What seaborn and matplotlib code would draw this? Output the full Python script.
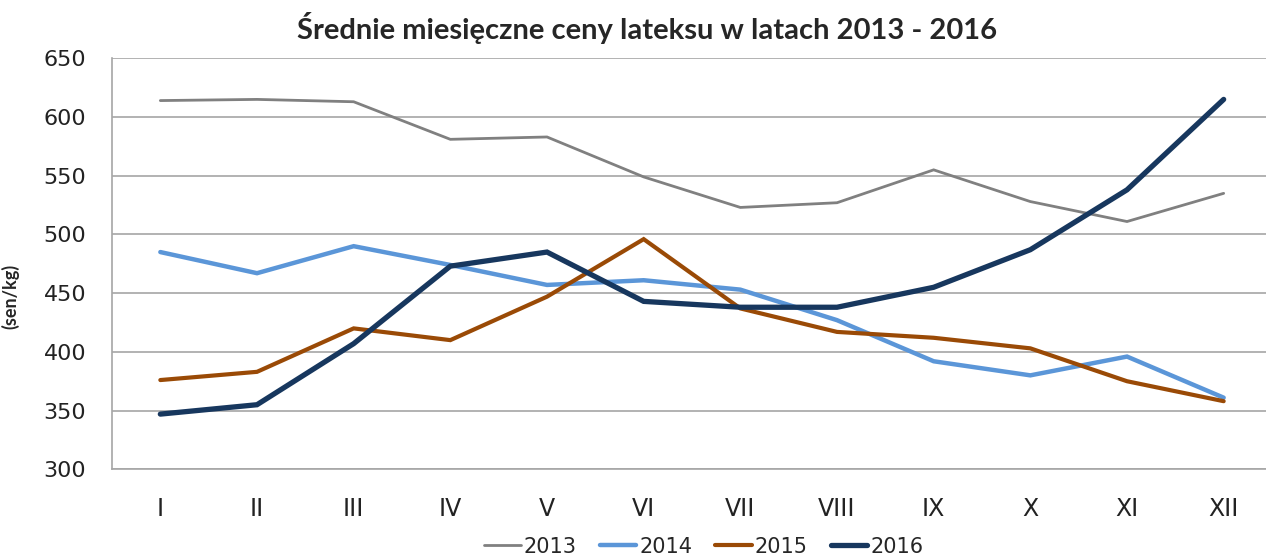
import matplotlib
matplotlib.use("Agg")
import matplotlib.pyplot as plt
import seaborn as sns
import pandas as pd

months = ["I", "II", "III", "IV", "V", "VI", "VII", "VIII", "IX", "X", "XI", "XII"]
years = ["2013", "2014", "2015", "2016"]
price_2013 = [614, 615, 613, 581, 583, 549, 523, 527, 555, 528, 511, 535]
price_2014 = [485, 467, 490, 474, 457, 461, 453, 427, 392, 380, 396, 361]
price_2015 = [376, 383, 420, 410, 447, 496, 437, 417, 412, 403, 375, 358]
price_2016 = [347, 355, 407, 473, 485, 443, 438, 438, 455, 487, 538, 615]
y_ticks = [300, 350, 400, 450, 500, 550, 600, 650]

colors = {"2013": "#808080", "2014": "#5B96D8", "2015": "#9A4A06", "2016": "#17375E"}
widths = {"2013": 2.0, "2014": 3.2, "2015": 3.0, "2016": 3.8}

df = pd.DataFrame({
    "month": list(range(len(months))) * 4,
    "year": [y for y in years for _ in months],
    "price": price_2013 + price_2014 + price_2015 + price_2016,
})

sns.set_style("white")
plt.rcParams["font.family"] = ["DejaVu Sans"]

fig = plt.figure(figsize=(12.66, 5.59), dpi=100)
ax = fig.add_axes([112 / 1266, 1 - 469.3 / 559, 1160 / 1266, 411 / 559])

for yr in years:
    sub = df[df["year"] == yr]
    sns.lineplot(data=sub, x="month", y="price", color=colors[yr], linewidth=widths[yr],
                 label=yr, ax=ax, solid_joinstyle="miter")

ax.set_xlim(-0.5, 11.5)
ax.set_ylim(300, 650)
ax.set_yticks(y_ticks)
ax.set_yticklabels([str(v) for v in y_ticks], fontsize=16, color="#222222")
ax.set_xticks(range(len(months)))
ax.set_xticklabels(months, fontsize=17, color="#222222")
ax.set_xticks([i - 0.5 for i in range(len(months) + 1)], minor=True)
ax.tick_params(axis="x", which="major", length=0, pad=20)
ax.tick_params(axis="x", which="minor", length=7, color="#a6a6a6", width=1)
ax.tick_params(axis="y", length=6.5, color="#a6a6a6", width=1, pad=12)
ax.yaxis.grid(True, color="#a6a6a6", linewidth=1.2)
ax.xaxis.grid(False)
for side in ["top", "right"]:
    ax.spines[side].set_visible(False)
for side in ["left", "bottom"]:
    ax.spines[side].set_color("#a6a6a6")
    ax.spines[side].set_linewidth(1.2)

ax.set_xlabel("")
ax.set_ylabel("(sen/kg)", fontsize=13, fontweight="bold", family=["Lato", "DejaVu Sans"])
ax.yaxis.set_label_coords(-0.08, 0.42)
fig.text(0.511, 0.95, "Średnie miesięczne ceny lateksu w latach 2013 - 2016",
         ha="center", va="center", fontsize=21, fontweight="bold",
         family=["Lato", "DejaVu Sans"])

handles, labels = ax.get_legend_handles_labels()
ax.get_legend().remove()
fig.legend(handles, labels, loc="center", bbox_to_anchor=(0.556, 0.022), ncol=4,
           frameon=False, fontsize=15, handlelength=1.75, handletextpad=0.15,
           columnspacing=1.1, borderpad=0.1)

fig.savefig("out.png", dpi=100)
